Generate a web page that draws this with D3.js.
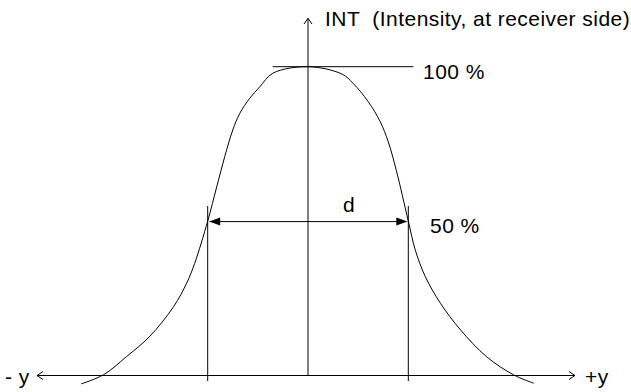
<!DOCTYPE html>
<html>
<head>
<meta charset="utf-8">
<script src="https://cdn.jsdelivr.net/npm/d3@7"></script>
<style>
  body { margin: 0; background: #fff; }
  text { font-family: "Liberation Sans", Arial, sans-serif; font-size: 21px; letter-spacing: 0.45px; fill: #000; }
</style>
</head>
<body>
<div class="container"></div>
<script>
// beam profile: intensity over the lateral offset, d = width at 50 %

// offset in units of d/2
var positions = [-2.26, -2.04, -1.81, -1.58, -1.34, -1.21, -1.13, -1.0, -0.91, -0.83, -0.75, -0.68, -0.58, -0.48, -0.35, 0,
                 0.34, 0.45, 0.6, 0.72, 0.8, 0.88, 1.0, 1.07, 1.17, 1.32, 1.52, 1.78, 2.05, 2.25]
// intensity in %
var intensity = [-2.7, 0.2, 6.1, 12.6, 22.3, 29.9, 36.3, 50, 61.1, 70.9, 79.5, 84.9, 89.8, 93.5, 97.9, 100,
                 97.6, 94.6, 88.7, 82.2, 75.7, 66.5, 50, 40.6, 32.0, 23.4, 14.8, 6.1, 0.2, -2.5]

var levels = [100, 50]
var levelLabels = ['100 %', '50 %']
var yAxisLabel = 'INT  (Intensity, at receiver side)'
var xAxisLabels = ['- y', '+y']
var widthLabel = 'd'

var opts = {
  width: 631,
  height: 392
}

var svg = d3.select('.container').append('svg:svg')
            .attr('width', opts.width)
            .attr('height', opts.height)

var x = d3.scaleLinear().domain([-1, 1]).range([207.7, 408.3])
var y = d3.scaleLinear().domain([0, 100]).range([375.5, 66.7])

var x0 = x(0)
var yBase = y(0)

// horizontal axis with open arrow heads
svg.append('line')
   .attr('x1', 37).attr('x2', 575)
   .attr('y1', yBase).attr('y2', yBase)
   .attr('stroke', '#000')

svg.append('path')
   .attr('d', 'M43,' + (yBase - 4) + 'L37,' + yBase + 'L43,' + (yBase + 4))
   .attr('fill', 'none').attr('stroke', '#000')

svg.append('path')
   .attr('d', 'M569,' + (yBase - 4) + 'L575,' + yBase + 'L569,' + (yBase + 4))
   .attr('fill', 'none').attr('stroke', '#000')

// vertical axis
svg.append('line')
   .attr('x1', x0).attr('x2', x0)
   .attr('y1', yBase).attr('y2', 18.3)
   .attr('stroke', '#000')

svg.append('path')
   .attr('d', 'M' + (x0 - 4) + ',24L' + x0 + ',18.3L' + (x0 + 4) + ',24')
   .attr('fill', 'none').attr('stroke', '#000')

// 100 % line over the peak
svg.append('line')
   .attr('x1', 272.7).attr('x2', 413.3)
   .attr('y1', y(levels[0])).attr('y2', y(levels[0]))
   .attr('stroke', '#000')

// the curve
var line = d3.line()
             .x(function (d) { return x(d[0]) })
             .y(function (d) { return y(d[1]) })
             .curve(d3.curveCatmullRom.alpha(0.5))

svg.append('path')
   .datum(d3.zip(positions, intensity))
   .attr('d', line)
   .attr('fill', 'none')
   .attr('stroke', '#000')
   .attr('stroke-width', 1)

// width markers at the 50 % points
svg.selectAll('.marker').data([-1, 1]).enter().append('line')
   .attr('class', 'marker')
   .attr('x1', function (d) { return x(d) }).attr('x2', function (d) { return x(d) })
   .attr('y1', 206).attr('y2', 381)
   .attr('stroke', '#000')

var yHalf = y(levels[1]) + 0.5
svg.append('line')
   .attr('x1', x(-1) + 2).attr('x2', x(1) - 2)
   .attr('y1', yHalf).attr('y2', yHalf)
   .attr('stroke', '#000')

svg.append('path')
   .attr('d', 'M' + (x(-1) + 1.5) + ',' + yHalf + 'l11,-4v8z')
   .attr('fill', '#000')

svg.append('path')
   .attr('d', 'M' + (x(1) - 1) + ',' + yHalf + 'l-11,-4v8z')
   .attr('fill', '#000')

// texts
svg.append('text')
   .attr('x', 325).attr('y', 26)
   .style('white-space', 'pre')
   .text(yAxisLabel)

svg.selectAll('.level').data(levels).enter().append('text')
   .attr('class', 'level')
   .attr('x', function (d, i) { return i === 0 ? 423 : 430 })
   .attr('y', function (d, i) { return i === 0 ? y(d) + 12.6 : y(d) + 11.5 })
   .text(function (d, i) { return levelLabels[i] })

svg.append('text')
   .attr('x', 343).attr('y', 211.7)
   .text(widthLabel)

svg.append('text')
   .attr('x', 5).attr('y', 384)
   .style('white-space', 'pre')
   .text(xAxisLabels[0])

svg.append('text')
   .attr('x', 585).attr('y', 384)
   .text(xAxisLabels[1])
</script>
</body>
</html>
